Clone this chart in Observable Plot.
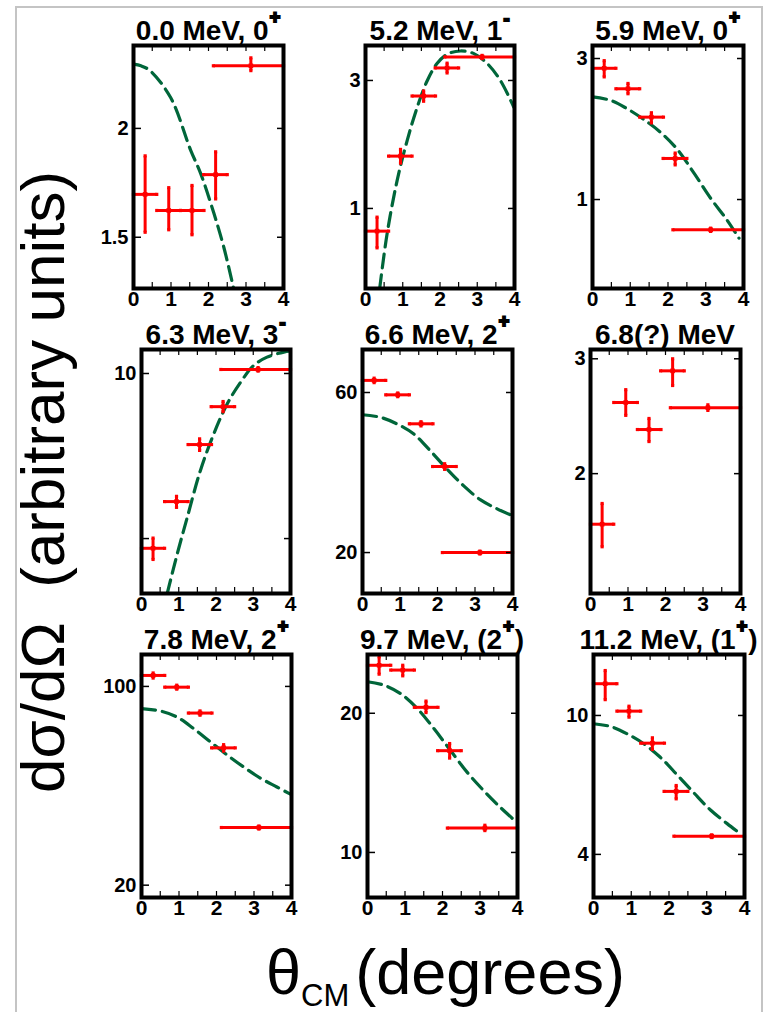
<!DOCTYPE html>
<html>
<head>
<meta charset="utf-8">
<script src="https://cdn.jsdelivr.net/npm/d3@7"></script>
<script src="https://cdn.jsdelivr.net/npm/@observablehq/plot@0.6"></script>
<style>
  html, body { margin: 0; padding: 0; background: #fff; }
  #fig { position: relative; width: 769px; height: 1012px; overflow: hidden; background: #fff;
         font-family: "Liberation Sans", Arial, Helvetica, sans-serif; }
  #fig svg { overflow: visible; }
</style>
</head>
<body>
<div id="fig"></div>
<script>
// ---------------- DATA ----------------
// Panel titles (state energy, spin-parity)
const titleMain = ["0.0 MeV, 0", "5.2 MeV, 1", "5.9 MeV, 0",
                   "6.3 MeV, 3", "6.6 MeV, 2", "6.8(?) MeV",
                   "7.8 MeV, 2", "9.7 MeV, (2", "11.2 MeV, (1"];
const titleSup  = ["+", "-", "+", "-", "+", "", "+", "+", "+"];
const titleEnd  = ["", "", "", "", "", "", "", ")", ")"];

// Angular bins θ_CM (degrees), shared by all panels
const xCenter = [0.31, 0.94, 1.56, 2.19, 3.13];
const xLow    = [0.00, 0.62, 1.25, 1.87, 2.13];
const xHigh   = [0.62, 1.25, 1.88, 2.50, 4.00];
const xTicks  = [0, 1, 2, 3, 4];

// Measured dσ/dΩ (arbitrary units), lower / upper error limits
const pointY = [
  [1.68, 1.61, 1.61, 1.77, 2.36],
  [0.823, 1.567, 2.625, 3.34, 3.67],
  [2.78, 2.37, 1.90, 1.377, 0.79],
  [4.80, 5.84, 7.42, 8.70, 10.17],
  [65.2, 59.05, 48.4, 36.1, 20.0],
  [1.673, 2.571, 2.337, 2.875, 2.524],
  [109.3, 99.4, 80.6, 60.8, 31.9],
  [25.4, 24.8, 20.6, 16.6, 11.29],
  [12.33, 10.29, 8.33, 6.06, 4.51]
];
const pointLo = [
  [1.52, 1.53, 1.51, 1.66, 2.33],
  [0.713, 1.476, 2.51, 3.20, 3.62],
  [2.60, 2.28, 1.817, 1.31, 0.78],
  [4.58, 5.70, 7.24, 8.52, 10.10],
  [64.2, 58.3, 47.7, 35.4, 19.8],
  [1.545, 2.457, 2.24, 2.73, 2.50],
  [107.0, 97.8, 79.2, 59.2, 31.5],
  [24.3, 24.1, 20.07, 16.0, 11.15],
  [11.1, 9.89, 7.99, 5.77, 4.47]
];
const pointHi = [
  [1.86, 1.71, 1.72, 1.88, 2.41],
  [0.928, 1.66, 2.74, 3.48, 3.72],
  [2.95, 2.47, 1.966, 1.436, 0.80],
  [5.01, 5.97, 7.60, 8.89, 10.25],
  [66.2, 59.8, 49.1, 36.8, 20.2],
  [1.80, 2.69, 2.43, 3.00, 2.55],
  [111.5, 101.0, 82.0, 62.4, 32.3],
  [26.5, 25.4, 21.25, 17.2, 11.45],
  [13.45, 10.63, 8.63, 6.30, 4.55]
];

// Calculated angular distributions (dashed curves)
const curveX = [
  [0, 0.20, 0.44, 0.99, 1.52, 1.79, 2.14, 2.41, 2.67],
  [0.38, 0.58, 0.85, 1.12, 1.39, 1.66, 1.92, 2.19, 2.55, 2.91, 3.27, 3.62, 3.98],
  [0, 0.48, 0.92, 1.36, 1.80, 2.24, 2.68, 3.13, 3.57, 3.88],
  [0.69, 0.96, 1.23, 1.58, 1.94, 2.30, 2.66, 3.01, 3.37, 3.82, 4.0],
  [0, 0.48, 0.93, 1.37, 1.81, 2.26, 2.70, 3.15, 3.59, 3.95],
  [],
  [0, 0.51, 0.95, 1.39, 1.84, 2.29, 2.73, 3.17, 3.61, 3.97],
  [0, 0.44, 0.88, 1.33, 1.77, 2.21, 2.66, 3.10, 3.55, 3.99],
  [0, 0.45, 0.89, 1.33, 1.77, 2.22, 2.66, 3.10, 3.54, 3.85]
];
const curveY = [
  [2.37, 2.36, 2.33, 2.17, 1.89, 1.776, 1.60, 1.46, 1.31],
  [0.502, 0.805, 1.272, 1.794, 2.388, 3.0, 3.467, 3.754, 3.864, 3.778, 3.467, 3.0, 2.388],
  [2.224, 2.166, 2.028, 1.865, 1.689, 1.481, 1.233, 1.01, 0.85, 0.740],
  [3.97, 4.69, 5.47, 6.65, 7.76, 8.80, 9.64, 10.34, 10.71, 10.94, 10.98],
  [51.5, 50.6, 48.3, 45.1, 40.2, 35.4, 31.6, 28.7, 27.0, 25.9],
  [],
  [83.5, 81.9, 78.0, 71.1, 63.8, 57.3, 52.0, 47.6, 44.3, 41.8],
  [23.4, 23.0, 22.06, 20.47, 18.53, 16.63, 14.9, 13.6, 12.5, 11.6],
  [9.47, 9.30, 8.86, 8.30, 7.59, 6.75, 6.0, 5.36, 4.90, 4.62]
];

// y axes (log scale): domains, tick values and tick labels
const yDomain = [[1.31, 2.49], [0.503, 4.05], [0.50, 3.32],
                 [3.97, 11.06], [15.1, 80.6], [1.31, 3.1],
                 [18.1, 129.5], [7.99, 26.8], [3.01, 14.95]];
const yTicks = [[1.5, 2], [1, 3], [1, 3], [5, 10], [20, 60], [2, 3], [20, 100], [10, 20], [4, 10]];
const yTickLabels = [["1.5", "2"], ["1", "3"], ["1", "3"], ["", "10"], ["20", "60"], ["2", "3"], ["20", "100"], ["10", "20"], ["4", "10"]];

const yLabel = "dσ/dΩ  (arbitrary units)";
const xLabelMain = "θ", xLabelSub = "CM", xLabelRest = "(degrees)";

// ---------------- LAYOUT ----------------
const frameL = [133, 365, 592, 141, 362, 590, 141, 367, 593];
const frameR = [283, 514, 743, 290, 512, 740, 291, 517, 744];
const frameT = [45, 45, 45, 349, 349, 349, 654, 654, 654];
const frameB = [288, 288, 288, 593, 593, 593, 897, 897, 897];
const titleBase = [40, 40, 40, 344, 344, 344, 649, 649, 649];

const RED = "#ff0000", GREEN = "#00663a";
const FONT = "'Liberation Sans', Arial, Helvetica, sans-serif";
const fig = document.getElementById("fig");
const mL = 50, mR = 10, mT = 4, mB = 34;

for (let i = 0; i < 9; i++) {
  const w = frameR[i] - frameL[i], h = frameB[i] - frameT[i];
  const pts = pointY[i].map((v, j) => ({
    x: xCenter[j], x1: xLow[j], x2: xHigh[j], y: v, y1: pointLo[i][j], y2: pointHi[i][j]
  }));
  const crv = curveX[i].map((x, j) => ({x, y: curveY[i][j]}));
  const labelMap = new Map(yTicks[i].map((t, k) => [t, yTickLabels[i][k]]));
  const minorX = [0.5, 1, 1.5, 2, 2.5, 3, 3.5];

  const svg = Plot.plot({
    width: w + mL + mR,
    height: h + mT + mB,
    marginLeft: mL, marginRight: mR, marginTop: mT, marginBottom: mB,
    style: {fontFamily: FONT, fontSize: "20px", fontWeight: "bold", color: "#000",
            background: "transparent", overflow: "visible"},
    x: {domain: [0, 4]},
    y: {type: "log", domain: yDomain[i]},
    marks: [
      Plot.line(crv, {x: "x", y: "y", curve: "catmull-rom", stroke: GREEN, strokeWidth: 3.2,
                      strokeDasharray: "14,7", clip: true}),
      Plot.link(pts, {x1: "x1", x2: "x2", y1: "y", y2: "y", stroke: RED, strokeWidth: 3}),
      Plot.link(pts, {x1: "x", x2: "x", y1: "y1", y2: "y2", stroke: RED, strokeWidth: 3}),
      Plot.dot(pts, {x: "x1", y: "y", symbol: "square", r: 1.8, fill: RED}),
      Plot.dot(pts, {x: "x2", y: "y", symbol: "square", r: 1.8, fill: RED}),
      Plot.dot(pts, {x: "x", y: "y1", symbol: "square", r: 1.8, fill: RED}),
      Plot.dot(pts, {x: "x", y: "y2", symbol: "square", r: 1.8, fill: RED}),
      Plot.dot(pts, {x: "x", y: "y", symbol: "square", r: 2.6, fill: RED}),
      // inner ROOT-style ticks
      Plot.tickX(minorX, {x: d => d, insetTop: h - 6, stroke: "#000", strokeWidth: 1.2}),
      Plot.tickX(minorX, {x: d => d, insetBottom: h - 6, stroke: "#000", strokeWidth: 1.2}),
      Plot.tickY(yTicks[i], {y: d => d, insetRight: w - 8, stroke: "#000", strokeWidth: 1.5}),
      Plot.tickY(yTicks[i], {y: d => d, insetLeft: w - 6, stroke: "#000", strokeWidth: 1.5}),
      Plot.frame({stroke: "#000", strokeWidth: 4}),
      Plot.axisX({ticks: xTicks, tickSize: 0, tickPadding: 3, label: null, fontSize: 21,
                  fontWeight: "bold", tickFormat: d => String(d)}),
      Plot.axisY({ticks: yTicks[i], tickSize: 0, tickPadding: 5, label: null, fontSize: 20,
                  fontWeight: "bold", tickFormat: d => labelMap.get(d)})
    ]
  });
  svg.style.position = "absolute";
  svg.style.left = (frameL[i] - mL) + "px";
  svg.style.top = (frameT[i] - mT) + "px";
  fig.appendChild(svg);
}

// ---------------- OVERLAY: titles, axis titles, border ----------------
const ov = d3.create("svg")
  .attr("width", 769).attr("height", 1012)
  .style("position", "absolute").style("left", "0px").style("top", "0px")
  .style("pointer-events", "none")
  .style("font-family", FONT);

ov.append("path")
  .attr("d", "M16,1012 V7 H762 V1012")
  .attr("fill", "none").attr("stroke", "#c4c4c4").attr("stroke-width", 2);

for (let i = 0; i < 9; i++) {
  const cx = (frameL[i] + frameR[i]) / 2;
  const t = ov.append("text")
    .attr("x", cx).attr("y", titleBase[i])
    .attr("text-anchor", "middle")
    .attr("font-size", 28).attr("font-weight", "bold").attr("fill", "#000");
  t.append("tspan").text(titleMain[i]);
  if (titleSup[i]) {
    const isMinus = titleSup[i] === "-";
    const up = isMinus ? 15 : 17;
    t.append("tspan")
      .attr("dy", -up)
      .attr("dx", 1)
      .attr("font-size", 18)
      .attr("stroke", "#000").attr("stroke-width", 2)
      .attr("stroke-linejoin", "miter")
      .text(titleSup[i]);
    if (titleEnd[i]) {
      t.append("tspan").attr("dy", up).attr("dx", 1).attr("font-size", 28).text(titleEnd[i]);
    }
  }
}

ov.append("text")
  .attr("transform", "translate(64,482) rotate(-90)")
  .attr("text-anchor", "middle")
  .attr("font-size", 62)
  .attr("fill", "#000")
  .style("white-space", "pre")
  .text(yLabel);

const xl = ov.append("text")
  .attr("x", 266).attr("y", 994)
  .attr("font-size", 63).attr("fill", "#000");
xl.append("tspan").text(xLabelMain);
xl.append("tspan").attr("font-size", 31).attr("dy", 12).text(xLabelSub);
xl.append("tspan").attr("dy", -12).attr("dx", 6).text(xLabelRest);

fig.appendChild(ov.node());
</script>
</body>
</html>
